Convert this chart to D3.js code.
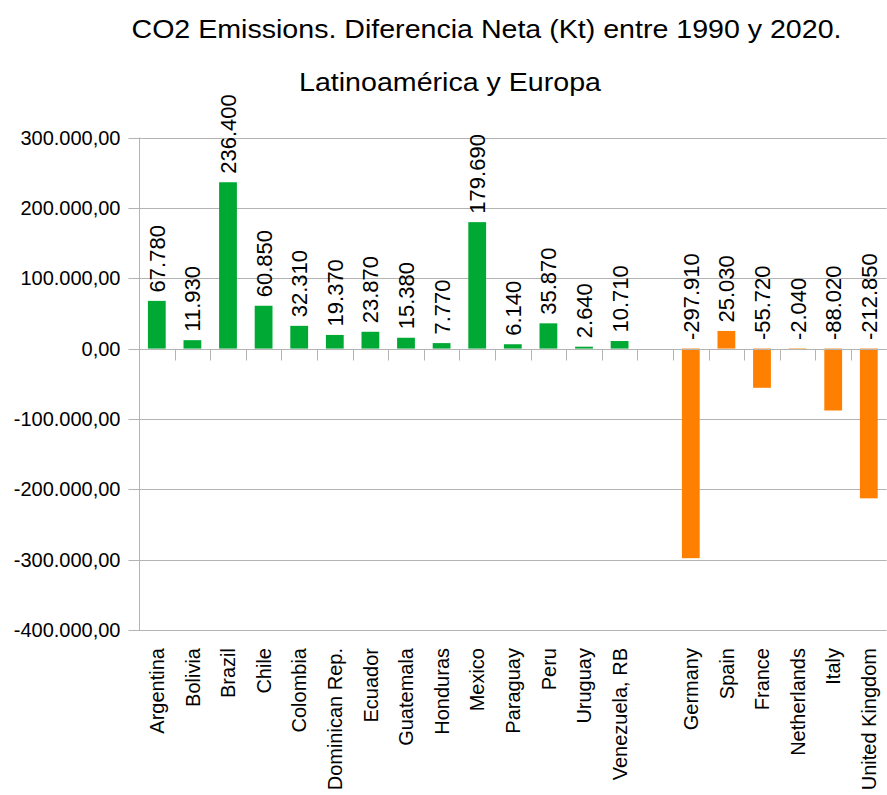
<!DOCTYPE html>
<html>
<head>
<meta charset="utf-8">
<script src="https://cdn.jsdelivr.net/npm/d3@7"></script>
<style>
  body { margin: 0; background: #fff; }
  text { font-family: "Liberation Sans", Arial, sans-serif; fill: #000; }
</style>
</head>
<body>
<div id="chart"></div>
<script>
var latinCountries = ["Argentina", "Bolivia", "Brazil", "Chile", "Colombia", "Dominican Rep.", "Ecuador",
    "Guatemala", "Honduras", "Mexico", "Paraguay", "Peru", "Uruguay", "Venezuela, RB"];
var latinValues = [67780, 11930, 236400, 60850, 32310, 19370, 23870, 15380, 7770, 179690, 6140, 35870, 2640, 10710];

var europeCountries = ["Germany", "Spain", "France", "Netherlands", "Italy", "United Kingdom"];
var europeValues = [-297910, 25030, -55720, -2040, -88020, -212850];

var yTicks = [-400000, -300000, -200000, -100000, 0, 100000, 200000, 300000];

var titleLines = ["CO2 Emissions. Diferencia Neta (Kt) entre 1990 y 2020.", "Latinoamérica y Europa"];

var svgWidth = 887, svgHeight = 795;
var margin = { top: 137.5, left: 139, right: 0, bottom: 165 };

var locale = d3.formatLocale({ decimal: ",", thousands: ".", grouping: [3], currency: ["", ""], minus: "-" });
var tickFormat = locale.format(",.2f");
var labelFormat = locale.format(",d");

// one blank slot between the two groups
var rows = [];
latinCountries.forEach(function(c, i) { rows.push({ key: c, name: c, value: latinValues[i], group: "latin" }); });
rows.push({ key: "__gap", name: "", value: null, group: "gap" });
europeCountries.forEach(function(c, i) { rows.push({ key: c, name: c, value: europeValues[i], group: "europe" }); });

var colors = { latin: "#00a933", europe: "#ff8000" };

var svg = d3.select("#chart").append("svg")
    .attr("width", svgWidth)
    .attr("height", svgHeight);

var x = d3.scaleBand()
    .domain(rows.map(d => d.key))
    .range([margin.left, margin.left + 21 * 35.6])
    .paddingInner(0.5)
    .paddingOuter(0.25);

var y = d3.scaleLinear()
    .domain([-400000, 300000])
    .range([630, margin.top]);

var plotRight = x.range()[1];

// title (stretched a bit, the original is rendered wider)
svg.append("text")
    .attr("x", 131.5).attr("y", 37.5)
    .attr("textLength", 710)
    .attr("lengthAdjust", "spacingAndGlyphs")
    .style("font-size", "26px")
    .text(titleLines[0]);
svg.append("text")
    .attr("x", 299).attr("y", 90.5)
    .attr("textLength", 302)
    .attr("lengthAdjust", "spacingAndGlyphs")
    .style("font-size", "26px")
    .text(titleLines[1]);

// gridlines
svg.append("g").selectAll("line")
    .data(yTicks)
    .enter().append("line")
    .attr("x1", margin.left)
    .attr("x2", plotRight)
    .attr("y1", d => Math.round(y(d)) + 0.5)
    .attr("y2", d => Math.round(y(d)) + 0.5)
    .attr("stroke", "#b3b3b3")
    .attr("stroke-width", 1);

// y axis
var yAxis = d3.axisLeft(y)
    .tickValues(yTicks)
    .tickFormat(tickFormat)
    .tickSize(11)
    .tickPadding(8);

var yAxisG = svg.append("g")
    .attr("transform", `translate(${margin.left + 0.5}, 0)`)
    .call(yAxis);
yAxisG.select(".domain").remove();
yAxisG.selectAll(".tick line").attr("stroke", "#b3b3b3");
yAxisG.selectAll(".tick").attr("transform", d => `translate(0, ${Math.round(y(d)) + 0.5})`);
yAxisG.selectAll(".tick text")
    .style("font-size", "20px")
    .attr("fill", "#000");

svg.append("line")
    .attr("x1", margin.left + 0.5).attr("x2", margin.left + 0.5)
    .attr("y1", y(300000)).attr("y2", y(-400000))
    .attr("stroke", "#b3b3b3");

// bars
svg.append("g").selectAll("rect")
    .data(rows.filter(d => d.value !== null))
    .enter().append("rect")
    .attr("x", d => x(d.key))
    .attr("width", x.bandwidth())
    .attr("y", d => y(Math.max(0, d.value)))
    .attr("height", d => Math.max(1, Math.abs(y(d.value) - y(0))))
    .attr("fill", d => colors[d.group]);

// x axis along zero
var zeroY = Math.round(y(0)) + 0.5;
svg.append("line")
    .attr("x1", margin.left).attr("x2", plotRight)
    .attr("y1", zeroY).attr("y2", zeroY)
    .attr("stroke", "#b3b3b3");

var boundaries = d3.range(1, rows.length + 1).map(i => margin.left + i * x.step());
svg.append("g").selectAll("line")
    .data(boundaries)
    .enter().append("line")
    .attr("x1", d => Math.round(d) + 0.5)
    .attr("x2", d => Math.round(d) + 0.5)
    .attr("y1", zeroY)
    .attr("y2", zeroY + 11)
    .attr("stroke", "#b3b3b3");

// data labels
svg.append("g").selectAll("text")
    .data(rows.filter(d => d.value !== null))
    .enter().append("text")
    .attr("transform", d => `translate(${x(d.key) + x.bandwidth() / 2}, ${y(Math.max(0, d.value)) - 8.5}) rotate(-90)`)
    .attr("dy", "0.36em")
    .attr("text-anchor", "start")
    .style("font-size", "22px")
    .text(d => labelFormat(d.value));

// category labels
svg.append("g").selectAll("text")
    .data(rows.filter(d => d.name !== ""))
    .enter().append("text")
    .attr("transform", d => `translate(${x(d.key) + x.bandwidth() / 2}, 648) rotate(-90)`)
    .attr("dy", "0.36em")
    .attr("text-anchor", "end")
    .style("font-size", "20px")
    .text(d => d.name);
</script>
</body>
</html>
